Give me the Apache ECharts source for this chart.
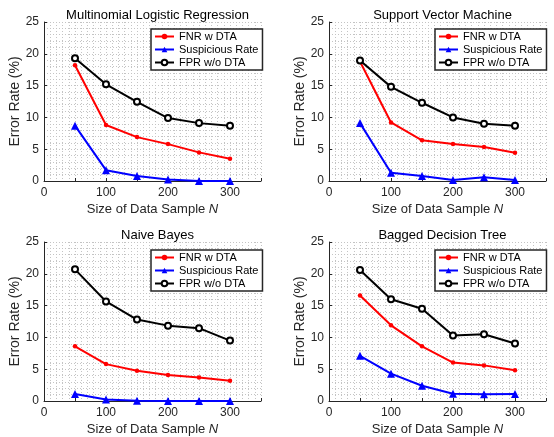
<!DOCTYPE html>
<html>
<head>
<meta charset="utf-8">
<script src="https://cdn.jsdelivr.net/npm/echarts@6/dist/echarts.min.js"></script>
<style>html,body{margin:0;padding:0;background:#fff}#c{width:554px;height:437px}</style>
</head>
<body>
<div id="c"></div>
<script>
const xValues = [50, 100, 150, 200, 250, 300];
const seriesNames = ['FNR w DTA', 'Suspicious Rate', 'FPR w/o DTA'];
const panelTitles = ['Multinomial Logistic Regression', 'Support Vector Machine', 'Naive Bayes', 'Bagged Decision Tree'];

const mlrFNR  = [18.2, 8.8, 6.9, 5.8, 4.5, 3.5];
const mlrSusp = [8.7, 1.7, 0.8, 0.25, 0.0, 0.0];
const mlrFPR  = [19.3, 15.2, 12.45, 9.9, 9.1, 8.7];

const svmFNR  = [18.8, 9.2, 6.4, 5.8, 5.35, 4.45];
const svmSusp = [9.1, 1.3, 0.8, 0.15, 0.6, 0.15];
const svmFPR  = [18.95, 14.8, 12.3, 10.0, 9.0, 8.7];

const nbFNR   = [8.6, 5.8, 4.75, 4.1, 3.7, 3.2];
const nbSusp  = [1.1, 0.25, 0.05, 0.0, 0.0, 0.0];
const nbFPR   = [20.7, 15.65, 12.8, 11.85, 11.45, 9.5];

const bdtFNR  = [16.6, 11.9, 8.6, 6.05, 5.6, 4.85];
const bdtSusp = [7.1, 4.3, 2.4, 1.15, 1.05, 1.1];
const bdtFPR  = [20.6, 16.0, 14.5, 10.3, 10.5, 9.05];

const yTicks = [0, 5, 10, 15, 20, 25];
const xTickLabels = [0, 100, 200, 300];

const panels = [
  [mlrFNR, mlrSusp, mlrFPR],
  [svmFNR, svmSusp, svmFPR],
  [nbFNR, nbSusp, nbFPR],
  [bdtFNR, bdtSusp, bdtFPR]
];

const FONT = '"Liberation Sans", Arial, Helvetica, sans-serif';
const AX = '#262626';
const gridPos = [
  {left: 44, top: 22}, {left: 329, top: 22},
  {left: 44, top: 242}, {left: 329, top: 242}
];
const GW = 217, GH = 159;
const legendPos = [
  {left: 151, top: 29}, {left: 435, top: 29},
  {left: 151, top: 250}, {left: 435, top: 250}
];

const grids = [], xAxes = [], yAxes = [], series = [], titles = [], legends = [];
const gridLine = {show: true, lineStyle: {color: '#c4c4c4', type: [1, 2], width: 1}};

panels.forEach((p, i) => {
  const g = gridPos[i];
  grids.push({left: g.left, top: g.top, width: GW, height: GH, containLabel: false});
  titles.push({
    text: panelTitles[i], left: g.left + GW / 2, top: g.top - 18, textAlign: 'center',
    textStyle: {fontFamily: FONT, fontSize: 13, fontWeight: 'normal', color: '#000'}
  });
  xAxes.push({
    type: 'value', gridIndex: i, min: 0, max: 350, interval: 50,
    name: 'Size of Data Sample {i|N}', nameLocation: 'middle', nameGap: 22,
    nameTextStyle: {fontFamily: FONT, fontSize: 13, color: AX,
      rich: {i: {fontFamily: FONT, fontSize: 13, fontStyle: 'italic', color: AX}}},
    axisLine: {show: true, onZero: false, lineStyle: {color: AX, width: 1}},
    axisTick: {show: true, inside: true, length: 3, lineStyle: {color: AX}},
    minorTick: {show: false, splitNumber: 5},
    axisLabel: {fontFamily: FONT, fontSize: 12, color: AX, margin: 6,
      showMaxLabel: true,
      formatter: v => (xTickLabels.indexOf(v) >= 0 ? String(v) : '')},
    splitLine: gridLine,
    minorSplitLine: gridLine
  });
  yAxes.push({
    type: 'value', gridIndex: i, min: yTicks[0], max: yTicks[yTicks.length - 1], interval: 5,
    name: 'Error Rate (%)', nameLocation: 'middle', nameGap: 19,
    nameTextStyle: {fontFamily: FONT, fontSize: 14, color: AX},
    axisLine: {show: true, onZero: false, lineStyle: {color: AX, width: 1}},
    axisTick: {show: true, inside: true, length: 3, lineStyle: {color: AX}},
    axisLabel: {fontFamily: FONT, fontSize: 12, color: AX, margin: 5},
    splitLine: gridLine,
    minorTick: {show: false, splitNumber: 5},
    minorSplitLine: gridLine
  });
  const styles = [
    {color: '#ff0000', symbol: 'circle', size: 4.5},
    {color: '#0000ff', symbol: 'triangle', size: 8},
    {color: '#000000', symbol: 'emptyCircle', size: 6}
  ];
  p.forEach((arr, k) => {
    const s = styles[k];
    series.push({
      name: seriesNames[k], type: 'line', xAxisIndex: i, yAxisIndex: i,
      data: xValues.map((x, j) => [x, arr[j]]),
      symbol: s.symbol, symbolSize: s.size, showAllSymbol: true,
      lineStyle: {color: s.color, width: 2},
      itemStyle: {color: s.color, borderColor: s.color, borderWidth: k === 2 ? 2.5 : 0},
      z: 3 + (k === 1 ? 0 : k), animation: false
    });
  });
  legends.push({
    data: seriesNames, orient: 'vertical', left: legendPos[i].left, top: legendPos[i].top,
    padding: [1, 4, 1, 3], itemGap: 0, itemWidth: 19, itemHeight: 7,
    backgroundColor: '#fff', borderColor: AX, borderWidth: 1.5, borderRadius: 0,
    textStyle: {fontFamily: FONT, fontSize: 11, color: '#000', lineHeight: 13},
    selectedMode: false, z: 10
  });
});

const chart = echarts.init(document.getElementById('c'), null, {renderer: 'canvas'});
chart.setOption({
  animation: false,
  backgroundColor: '#fff',
  title: titles,
  grid: grids,
  xAxis: xAxes,
  yAxis: yAxes,
  legend: legends,
  series: series
});
</script>
</body>
</html>
